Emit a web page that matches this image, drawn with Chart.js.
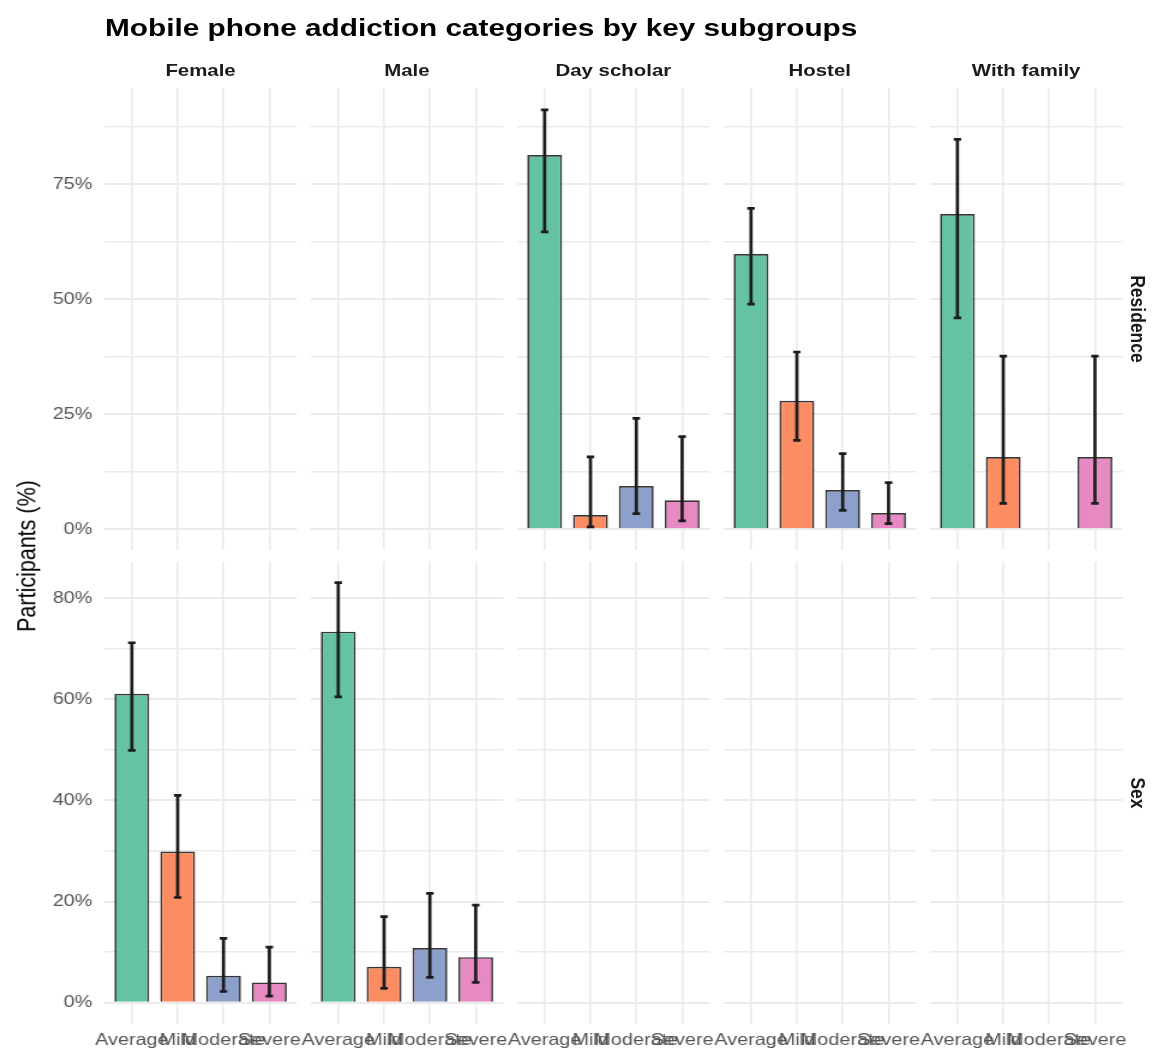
<!DOCTYPE html>
<html>
<head>
<meta charset="utf-8">
<script src="https://cdn.jsdelivr.net/npm/chart.js@4/dist/chart.umd.min.js"></script>
<style>
html,body{margin:0;padding:0;background:#fff;}
body{width:1164px;height:1052px;overflow:hidden;position:relative;}
#stage{position:absolute;left:0;top:0;width:970px;height:1052px;transform:scaleX(1.2);transform-origin:0 0;}
#stage canvas{position:absolute;left:0;top:0;}
.t{position:absolute;font-family:"Liberation Sans",Arial,Helvetica,sans-serif;white-space:nowrap;line-height:1;}
</style>
</head>
<body>
<div id="stage"></div>
<script>
// ---------- data ----------
const categories = ['Average', 'Mild', 'Moderate', 'Severe'];
const colGroups = ['Female', 'Male', 'Day scholar', 'Hostel', 'With family'];
const rowGroups = ['Residence', 'Sex'];

const dayScholarPct  = [81.3, 3.1, 9.4, 6.3];
const dayScholarLow  = [64.6, 0.5, 3.4, 1.8];
const dayScholarHigh = [91.1, 15.7, 24.1, 20.1];

const hostelPct  = [59.8, 27.9, 8.5, 3.5];
const hostelLow  = [48.9, 19.3, 4.1, 1.2];
const hostelHigh = [69.7, 38.5, 16.4, 10.1];

const withFamilyPct  = [68.5, 15.7, null, 15.7];
const withFamilyLow  = [45.9, 5.6, null, 5.6];
const withFamilyHigh = [84.7, 37.6, null, 37.6];

const femalePct  = [61.1, 29.9, 5.3, 4.0];
const femaleLow  = [49.9, 20.8, 2.2, 1.3];
const femaleHigh = [71.2, 41.0, 12.7, 11.0];

const malePct  = [73.4, 7.1, 10.8, 9.0];
const maleLow  = [60.5, 2.8, 5.0, 4.0];
const maleHigh = [83.1, 17.0, 21.6, 19.3];

const residenceTicks = [0, 12.5, 25, 37.5, 50, 62.5, 75, 87.5];
const residenceTickLabels = ['0%', '', '25%', '', '50%', '', '75%', ''];
const sexTicks = [0, 10, 20, 30, 40, 50, 60, 70, 80];
const sexTickLabels = ['0%', '', '20%', '', '40%', '', '60%', '', '80%'];

const categoryColors = ['#66C2A5', '#FC8D62', '#8DA0CB', '#E78AC3'];

// panel contents [row][col]
const panelData = [
  [null, null,
   {pct: dayScholarPct, low: dayScholarLow, high: dayScholarHigh},
   {pct: hostelPct, low: hostelLow, high: hostelHigh},
   {pct: withFamilyPct, low: withFamilyLow, high: withFamilyHigh}],
  [{pct: femalePct, low: femaleLow, high: femaleHigh},
   {pct: malePct, low: maleLow, high: maleHigh},
   null, null, null]
];
const rowTicks = [residenceTicks, sexTicks];
const rowTickLabels = [residenceTickLabels, sexTickLabels];
const rowRange = [[-4.565, 95.87], [-4.15, 87.3]];

// ---------- layout (screen px) ----------
const S = 1.2;             // horizontal stretch of the whole figure
const W = 1164 / S, H = 1052;
const colLeft = [104.3, 310.7, 517.1, 723.5, 929.9];
const colW = 192.5;
const rowTop = [88, 561.4];
const rowH = 462.2;
const xAxisH = 32;
const FONT = '"Liberation Sans", Arial, Helvetica, sans-serif';

Chart.defaults.font.family = FONT;

const errorBarPlugin = {
  id: 'errorBars',
  afterDatasetsDraw(chart) {
    const ds = chart.data.datasets[0];
    if (!ds || !ds.errLow) return;
    const xs = chart.scales.x, ys = chart.scales.y, ctx = chart.ctx;
    ctx.save();
    ctx.strokeStyle = '#1c1c1c';
    ds.errLow.forEach((lo, i) => {
      const hi = ds.errHigh[i];
      if (lo == null || hi == null) return;
      const x = xs.getPixelForValue(i);
      const y1 = ys.getPixelForValue(lo), y2 = ys.getPixelForValue(hi);
      ctx.lineWidth = 2.7;
      ctx.beginPath(); ctx.moveTo(x, y1); ctx.lineTo(x, y2); ctx.stroke();
      ctx.lineWidth = 2.7;
      const hw = 3.1;
      ctx.beginPath();
      ctx.moveTo(x - hw, y1); ctx.lineTo(x + hw, y1);
      ctx.moveTo(x - hw, y2); ctx.lineTo(x + hw, y2);
      ctx.stroke();
    });
    ctx.restore();
  }
};

const stage = document.getElementById('stage');

function makePanel(r, c) {
  const cv = document.createElement('canvas');
  cv.width = W; cv.height = H;
  cv.style.width = W + 'px'; cv.style.height = H + 'px';
  stage.appendChild(cv);
  const pd = panelData[r][c];
  const ticks = rowTicks[r], tickLabels = rowTickLabels[r];
  const datasets = pd ? [{
    data: categories.map((cat, i) => ({x: i, y: pd.pct[i]})),
    backgroundColor: categoryColors,
    borderColor: '#353535',
    borderWidth: 1.7,
    barPercentage: 0.76,
    categoryPercentage: 1,
    errLow: pd.low,
    errHigh: pd.high
  }] : [];
  const panelRight = (colLeft[c] + colW) / S;
  const xH = r === 1 ? xAxisH : 0;
  new Chart(cv, {
    type: 'bar',
    data: {datasets},
    plugins: [errorBarPlugin],
    options: {
      responsive: false,
      animation: false,
      devicePixelRatio: 1,
      layout: {
        padding: {
          left: c === 0 ? 0 : colLeft[c] / S,
          right: W - panelRight,
          top: rowTop[r],
          bottom: H - rowTop[r] - rowH - xH
        }
      },
      plugins: {legend: {display: false}, tooltip: {enabled: false}, title: {display: false}},
      scales: {
        x: {
          type: 'linear',
          min: -0.6, max: 3.6,
          offset: false,
          afterBuildTicks: s => { s.ticks = categories.map((cat, i) => ({value: i})); },
          afterFit: s => { s.height = xH; },
          ticks: {
            display: r === 1,
            autoSkip: false, maxRotation: 0, minRotation: 0,
            padding: 7,
            color: '#555555',
            font: {size: 16.5, family: FONT},
            callback: (v, i) => categories[i]
          },
          grid: {color: '#ebebeb', lineWidth: 2 / S, drawTicks: false, offset: false},
          border: {display: false}
        },
        y: {
          type: 'linear',
          min: rowRange[r][0], max: rowRange[r][1],
          afterBuildTicks: s => { s.ticks = ticks.map(v => ({value: v})); },
          afterFit: s => { s.width = c === 0 ? colLeft[0] / S : 0; },
          ticks: {
            display: c === 0,
            padding: 10,
            color: '#555555',
            font: {size: 16.5, family: FONT},
            callback: (v, i) => tickLabels[i]
          },
          grid: {
            color: '#ebebeb',
            lineWidth: ctx => (ctx.tick && tickLabels[ctx.index] !== '') ? 2 : 1.6,
            drawTicks: false
          },
          border: {display: false}
        }
      }
    }
  });
}

for (let r = 0; r < 2; r++) for (let c = 0; c < 5; c++) makePanel(r, c);

function addText(txt, css) {
  const d = document.createElement('div');
  d.className = 't';
  d.textContent = txt;
  Object.assign(d.style, css);
  stage.appendChild(d);
  return d;
}

addText('Mobile phone addiction categories by key subgroups', {
  left: (105 / S) + 'px', top: '16px', fontSize: '24.8px', fontWeight: 'bold', color: '#000'
});
colGroups.forEach((g, c) => {
  addText(g, {
    left: ((colLeft[c] + colW / 2) / S) + 'px', top: '62px',
    transform: 'translateX(-50%)', fontSize: '17px', fontWeight: 'bold', color: '#1a1a1a'
  });
});
rowGroups.forEach((g, r) => {
  addText(g, {
    left: (1138 / S) + 'px', top: (rowTop[r] + rowH / 2) + 'px',
    transform: 'translate(-50%,-50%) rotate(90deg)', fontSize: '17.5px', fontWeight: 'bold', color: '#1a1a1a'
  });
});
addText('Participants (%)', {
  left: (27.5 / S) + 'px', top: '556px',
  transform: 'translate(-50%,-50%) rotate(-90deg)', fontSize: '21.5px', color: '#000'
});
</script>
</body>
</html>
